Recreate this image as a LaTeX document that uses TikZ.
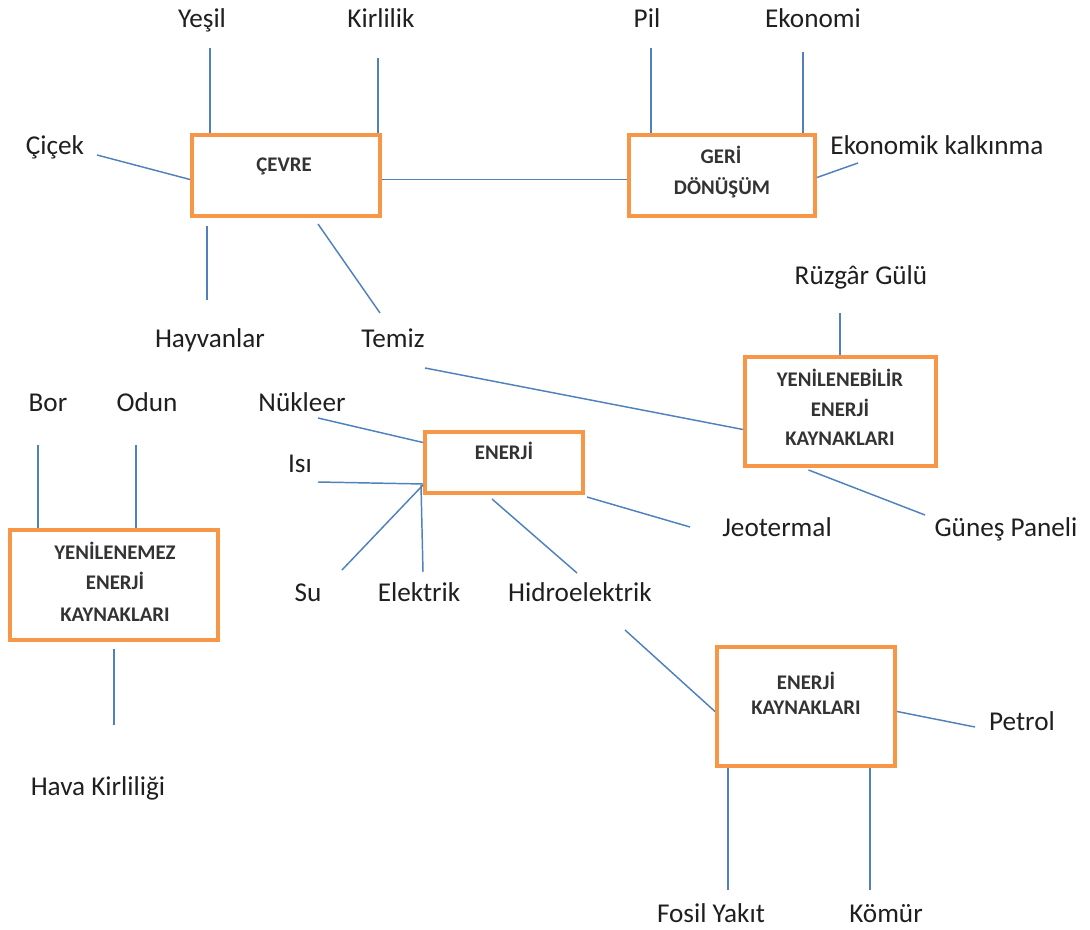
\documentclass[tikz,border=0pt]{standalone}
\usepackage{fontspec}
\setmainfont{Carlito}
\usetikzlibrary{calc}
\definecolor{boxorange}{RGB}{247,150,70}
\definecolor{linkblue}{RGB}{79,129,189}
\tikzset{
  box/.style={draw=boxorange, line width=3pt, fill=white, inner sep=0pt},
  lbl/.style={font=\fontsize{20.4pt}{24pt}\selectfont, inner sep=0pt, anchor=base, text=black!88},
  btxt/.style={font=\fontsize{15.6pt}{19pt}\selectfont\bfseries, inner sep=0pt, anchor=base, text=black!80},
  link/.style={draw=linkblue, line width=1.1pt}
}
\begin{document}
\begin{tikzpicture}[x=0.75pt, y=-0.75pt]
\useasboundingbox (0,0) rectangle (1090,930);

% ---- boxes ----
\node[box, minimum width=141pt,   minimum height=60.75pt] (cevre)  at (286,175.5) {};
\node[box, minimum width=139.5pt, minimum height=60.75pt] (geri)   at (722,175.5) {};
\node[box, minimum width=143.25pt,minimum height=81.75pt] (yen)    at (840.5,411.5) {};
\node[box, minimum width=156pt,   minimum height=82.5pt]  (yenmez) at (114,585) {};
\node[box, minimum width=118.5pt, minimum height=45.75pt] (enerji) at (504,462.5) {};
\node[box, minimum width=133.5pt, minimum height=89.25pt] (kaynak) at (806,706.5) {};

% ---- box captions ----
\node[btxt] (t-cevre)  at (284,172) {ÇEVRE};
\node[btxt] (t-geri1)  at (721,164) {GERİ};
\node[btxt] (t-geri2)  at (722,195) {DÖNÜŞÜM};
\node[btxt] (t-yen1)   at (840,387) {YENİLENEBİLİR};
\node[btxt] (t-yen2)   at (840,417) {ENERJİ};
\node[btxt] (t-yen3)   at (840,446) {KAYNAKLARI};
\node[btxt] (t-ymz1)   at (115,560) {YENİLENEMEZ};
\node[btxt] (t-ymz2)   at (115,590) {ENERJİ};
\node[btxt] (t-ymz3)   at (115,622) {KAYNAKLARI};
\node[btxt] (t-enerji) at (504,460) {ENERJİ};
\node[btxt] (t-kay1)   at (806,690) {ENERJİ};
\node[btxt] (t-kay2)   at (806,715) {KAYNAKLARI};

% ---- labels ----
\node[lbl] (yesil)    at (202,28)  {Yeşil};
\node[lbl] (kirlilik) at (381,28)  {Kirlilik};
\node[lbl] (pil)      at (647,28)  {Pil};
\node[lbl] (ekonomi)  at (813,28)  {Ekonomi};
\node[lbl] (cicek)    at (55,155)  {Çiçek};
\node[lbl] (kalkinma) at (937,155) {Ekonomik kalkınma};
\node[lbl] (hayvan)   at (210,348) {Hayvanlar};
\node[lbl] (temiz)    at (393,348) {Temiz};
\node[lbl] (ruzgar)   at (861,285) {Rüzgâr Gülü};
\node[lbl] (bor)      at (48,412)  {Bor};
\node[lbl] (odun)     at (147,412) {Odun};
\node[lbl] (nukleer)  at (302,412) {Nükleer};
\node[lbl] (isi)      at (300,473) {Isı};
\node[lbl] (jeo)      at (777,537) {Jeotermal};
\node[lbl] (gunes)    at (1006,537){Güneş Paneli};
\node[lbl] (su)       at (308,602) {Su};
\node[lbl] (elektrik) at (419,602) {Elektrik};
\node[lbl] (hidro)    at (580,602) {Hidroelektrik};
\node[lbl] (hava)     at (98,795)  {Hava Kirliliği};
\node[lbl] (petrol)   at (1022,730){Petrol};
\node[lbl] (fosil)    at (711,922) {Fosil Yakıt};
\node[lbl] (komur)    at (886,922) {Kömür};

% ---- free ends of connectors ----
\coordinate (e-yesil)    at (210,48);
\coordinate (e-kirlilik) at (378,58);
\coordinate (e-cicek)    at (97,155);
\coordinate (e-hayvan)   at (207,300);
\coordinate (e-temiz)    at (380,313);
\coordinate (e-temiz2)   at (425,368);
\coordinate (e-pil)      at (651,48);
\coordinate (e-ekonomi)  at (803,52);
\coordinate (e-kalkinma) at (858,163);
\coordinate (e-ruzgar)   at (840,313);
\coordinate (e-gunes)    at (925,515);
\coordinate (e-nukleer)  at (318,418);
\coordinate (e-isi)      at (318,482);
\coordinate (e-su)       at (342,570);
\coordinate (e-elektrik) at (423,572);
\coordinate (e-hidro)    at (577,573);
\coordinate (e-jeo)      at (690,527);
\coordinate (e-hidro2)   at (625,630);
\coordinate (e-bor)      at (38,445);
\coordinate (e-odun)     at (136,445);
\coordinate (e-hava)     at (114,725);
\coordinate (e-petrol)   at (975,727);
\coordinate (e-fosil)    at (728,890);
\coordinate (e-komur)    at (870,890);

% ---- connectors ----
% ÇEVRE
\draw[link] (e-yesil) -- (e-yesil |- cevre.north);
\draw[link] (e-kirlilik) -- (e-kirlilik |- cevre.north);
\draw[link] (e-cicek) -- ($(cevre.west)+(0,4)$);
\draw[link] (e-hayvan) -- ($(e-hayvan |- cevre.south)+(0,8)$);
\draw[link] (e-temiz) -- ($(cevre.south)+(32,6)$);
\draw[link] ($(cevre.east)+(0,4)$) -- ($(geri.west)+(0,4)$);
% GERİ DÖNÜŞÜM
\draw[link] (e-pil) -- (e-pil |- geri.north);
\draw[link] (e-ekonomi) -- (e-ekonomi |- geri.north);
\draw[link] (e-kalkinma) -- ($(geri.east)+(0,2)$);
% YENİLENEBİLİR ENERJİ KAYNAKLARI
\draw[link] (e-ruzgar) -- (e-ruzgar |- yen.north);
\draw[link] (e-temiz2) -- ($(yen.west)+(0,18)$);
\draw[link] ($(yen.south)+(-32,2)$) -- (e-gunes);
% ENERJİ
\draw[link] (e-nukleer) -- ($(enerji.west)+(0,-20)$);
\draw[link] (e-isi) -- ($(enerji.south west)+(0,-11)$);
\draw[link] (e-su) -- ($(enerji.south west)+(0,-10)$);
\draw[link] ($(enerji.south west)+(-2,-10)$) -- (e-elektrik);
\draw[link] ($(enerji.south)+(-12,4)$) -- (e-hidro);
\draw[link] ($(enerji.south east)+(2,2)$) -- (e-jeo);
% YENİLENEMEZ ENERJİ KAYNAKLARI
\draw[link] (e-bor) -- (e-bor |- yenmez.north);
\draw[link] (e-odun) -- (e-odun |- yenmez.north);
\draw[link] ($(yenmez.south)+(0,7)$) -- (e-hava);
% ENERJİ KAYNAKLARI
\draw[link] (e-hidro2) -- ($(kaynak.west)+(0,5)$);
\draw[link] (e-petrol) -- ($(kaynak.east)+(0,5)$);
\draw[link] (e-fosil) -- (e-fosil |- kaynak.south);
\draw[link] (e-komur) -- (e-komur |- kaynak.south);
\end{tikzpicture}
\end{document}
